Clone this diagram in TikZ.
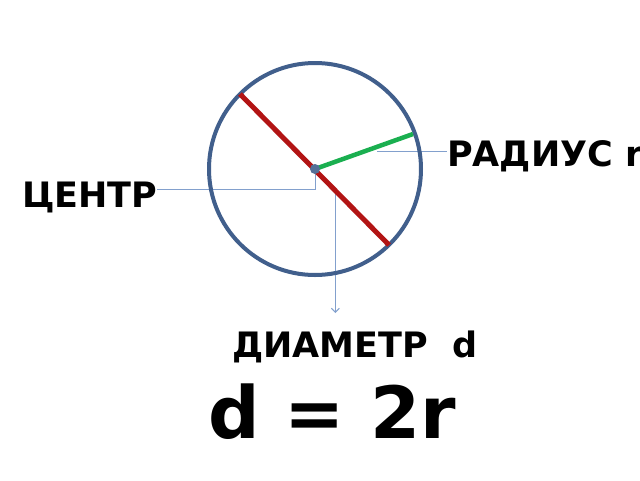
\documentclass[tikz,border=0pt]{standalone}
\usepackage{fontspec}
\setmainfont{DejaVu Sans}
\usetikzlibrary{arrows.meta,calc}
\definecolor{circc}{RGB}{65,95,140}
\definecolor{redc}{RGB}{178,20,20}
\definecolor{greenc}{RGB}{26,175,80}
\definecolor{leadc}{RGB}{130,160,205}
\tikzset{
  lbl/.style={inner sep=0pt, anchor=base west, font=\fontsize{35}{40}\selectfont\bfseries},
  big/.style={inner sep=0pt, anchor=base west, font=\fontsize{72}{80}\selectfont\bfseries},
  leader/.style={draw=leadc, line width=1pt},
}
\begin{document}
\begin{tikzpicture}[x=1pt,y=-1pt]
\useasboundingbox (0,0) rectangle (640,480);
\fill[white] (0,0) rectangle (640,480);
\coordinate (O) at (315,169);
\coordinate (A) at (240,94);
\coordinate (B) at (389,245);
\coordinate (R) at (413,134);
% labels
\node[lbl] (rad) at (447,166) {РАДИУС r};
\node[lbl] (cen) at (22,207) {ЦЕНТР};
\node[lbl] (dia) at (232,357) {ДИАМЕТР\ \ d};
\node[big] (form) at (208,438) {d = 2r};
% leaders
\coordinate (rl) at (377,151);
\draw[leader] (rl) -- (rad.west |- rl);
\coordinate (cl) at (157,189);
\draw[leader] (cl) -| (O);
\coordinate (dl) at ($(A)!0.64!(B)$);
\coordinate (dt) at (335,313);
\draw[leader, -{Straight Barb[length=4pt,width=8pt]}] (dl) -- (dl |- dt);
% circle and lines
\draw[circc, line width=4pt] (O) circle[radius=106];
\draw[redc, line width=5pt] (A) -- (B);
\draw[greenc, line width=4.5pt] (O) -- (R);
\fill[circc!90] (O) circle[radius=5];
\end{tikzpicture}
\end{document}
